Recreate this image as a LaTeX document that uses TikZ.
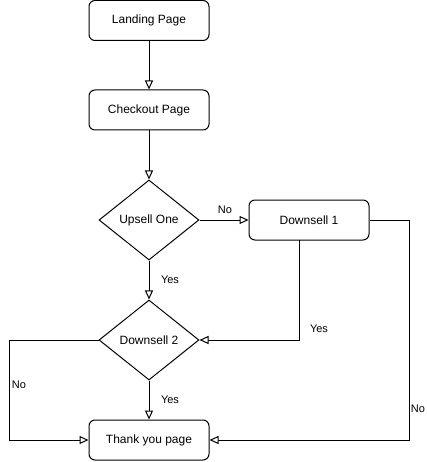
\documentclass[tikz,border=0pt]{standalone}
\usepackage{fontspec}
\setmainfont{Liberation Sans}
\usetikzlibrary{arrows.meta,shapes.geometric}
\begin{document}
\begin{tikzpicture}[x=1pt,y=-1pt,
  box/.style={draw, rounded corners=6pt, minimum width=120pt, minimum height=40pt, inner sep=0pt, font=\fontsize{12}{14}\selectfont, line width=1pt},
  dec/.style={draw, diamond, aspect=1.25, minimum width=100pt, minimum height=80pt, inner sep=0pt, font=\fontsize{12}{14}\selectfont, line width=1pt},
  conn/.style={draw, line width=1pt, -{Triangle[open, length=9pt, width=8pt]}},
  lbl/.style={font=\fontsize{11}{13}\selectfont, inner sep=0pt}]
\useasboundingbox (0,0) rectangle (427,462);
\node[box] (land) at (149,20.5) {Landing Page};
\node[box] (check) at (149,110) {Checkout Page};
\node[dec] (up) at (149,220) {Upsell One};
\node[box] (d1) at (309,220) {Downsell 1};
\node[dec] (d2) at (149,340) {Downsell 2};
\node[box] (ty) at (149,440) {Thank you page};
\coordinate (d1b) at (299,240);
\coordinate (c1) at (299,340);
\coordinate (c2) at (409,220);
\coordinate (c3) at (409,440);
\coordinate (c4) at (9,340);
\coordinate (c5) at (9,440);
\draw[conn] (land) -- (check);
\draw[conn] (check) -- (up);
\draw[conn] (up) -- (d1);
\draw[conn] (up) -- (d2);
\draw[conn] (d1b) -- (c1) -- (d2.east);
\draw[conn] (d1.east) -- (c2) -- (c3) -- (ty.east);
\draw[conn] (d2.west) -- (c4) -- (c5) -- (ty.west);
\draw[conn] (d2) -- (ty);
\node[lbl] (lno1) at (225,210) {No};
\node[lbl] (lyes1) at (170,280) {Yes};
\node[lbl] (lyes2) at (319,329) {Yes};
\node[lbl] (lno2) at (418,409) {No};
\node[lbl] (lno3) at (19,385) {No};
\node[lbl] (lyes3) at (170,400) {Yes};
\end{tikzpicture}
\end{document}
